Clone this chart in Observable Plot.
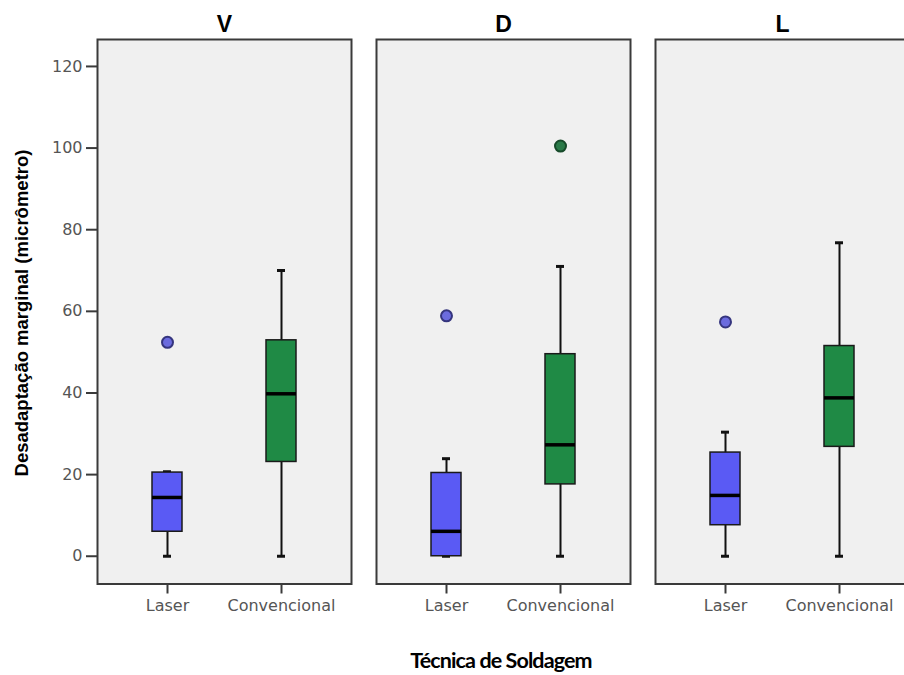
<!DOCTYPE html>
<html>
<head>
<meta charset="utf-8">
<script src="https://cdn.jsdelivr.net/npm/d3@7"></script>
<script src="https://cdn.jsdelivr.net/npm/@observablehq/plot@0.6"></script>
<style>
  html, body { margin: 0; padding: 0; background: #ffffff; overflow: hidden; }
  #wrap { position: relative; width: 904px; height: 675px; overflow: hidden; }
  #ytitle { position: absolute; left: 22px; top: 313px; transform: translate(-50%, -50%) rotate(-90deg);
    white-space: nowrap; font-family: "Liberation Sans", Arial, sans-serif; font-weight: bold; font-size: 18.5px; color: #000; }
  #xtitle { position: absolute; left: 501px; top: 660px; transform: translate(-50%, -50%);
    white-space: nowrap; font-family: Lato, sans-serif; font-weight: bold; font-size: 21.5px; letter-spacing: -0.9px; color: #000; }
</style>
</head>
<body>
<div id="wrap">
  <div id="chart"></div>
  <div id="ytitle">Desadaptação marginal (micrômetro)</div>
  <div id="xtitle">Técnica de Soldagem</div>
</div>
<script>
// Panels (faces) and techniques
const panels = ["V", "D", "L"];
const techniques = ["Laser", "Convencional"];

// Box statistics, one entry per (panel, technique)
const boxPanel = ["V", "V", "D", "D", "L", "L"];
const boxTech  = ["Laser", "Convencional", "Laser", "Convencional", "Laser", "Convencional"];
const whiskerLow  = [0, 0, 0, 0, 0, 0];
const q1          = [6.0, 23.1, 0, 17.6, 7.6, 26.8];
const median      = [14.4, 39.8, 6.1, 27.3, 14.9, 38.8];
const q3          = [20.5, 52.9, 20.4, 49.5, 25.4, 51.5];
const whiskerHigh = [20.7, 70.0, 23.9, 71.0, 30.4, 76.8];

// Outliers
const outlierPanel = ["V", "D", "D", "L"];
const outlierTech  = ["Laser", "Laser", "Convencional", "Laser"];
const outlierValue = [52.4, 58.9, 100.5, 57.4];

// Y axis ticks
const yTicks = [0, 20, 40, 60, 80, 100, 120];

const boxes = boxPanel.map((p, i) => ({
  panel: p, tech: boxTech[i], low: whiskerLow[i], q1: q1[i], med: median[i], q3: q3[i], high: whiskerHigh[i]
}));
const outliers = outlierPanel.map((p, i) => ({ panel: p, tech: outlierTech[i], value: outlierValue[i] }));

const fillColors = { "Laser": "#5a5af4", "Convencional": "#1f8a45" };
const dotFill = { "Laser": "#6b6bde", "Convencional": "#2a7a48" };
const dotStroke = { "Laser": "#35357e", "Convencional": "#174a2a" };

const chart = Plot.plot({
  width: 910,
  height: 630,
  marginLeft: 97,
  marginRight: 0,
  marginTop: 39,
  marginBottom: 46.5,
  style: { fontFamily: "DejaVu Sans, sans-serif", fontSize: "16px", maxWidth: "none", background: "#ffffff" },
  fx: { domain: panels, paddingInner: 0.088, paddingOuter: 0 },
  x: { type: "band", domain: techniques, paddingInner: 0.737, paddingOuter: 0.476 },
  y: { domain: [-6.8, 126.6] },
  marks: [
    Plot.frame({ fill: "#f0f0f0", stroke: "#3a3a3a", strokeWidth: 2 }),
    Plot.axisFx({ anchor: "top", label: null, tickSize: 0, tickPadding: 8, fontSize: 23, fontWeight: "bold", fill: "#000", fontFamily: "Liberation Sans, Arial, sans-serif" }),
    Plot.axisY({ anchor: "left", ticks: yTicks, tickSize: 11, tickPadding: 4, label: null, fill: "#555", stroke: "#3a3a3a", strokeWidth: 2, fontSize: 16 }),
    Plot.axisX({ anchor: "bottom", label: null, tickSize: 10, tickPadding: 6, fill: "#555", stroke: "#3a3a3a", strokeWidth: 2, fontSize: 16 }),
    Plot.ruleX(boxes, { fx: "panel", x: "tech", y1: "low", y2: "high", stroke: "#111", strokeWidth: 2 }),
    Plot.tickY(boxes, { fx: "panel", x: "tech", y: "low", stroke: "#111", strokeWidth: 3, insetLeft: 11, insetRight: 11 }),
    Plot.tickY(boxes, { fx: "panel", x: "tech", y: "high", stroke: "#111", strokeWidth: 3, insetLeft: 11, insetRight: 11 }),
    Plot.barY(boxes, { fx: "panel", x: "tech", y1: "q1", y2: "q3", fill: d => fillColors[d.tech], stroke: "#1a1a1a", strokeWidth: 1.5 }),
    Plot.tickY(boxes, { fx: "panel", x: "tech", y: "med", stroke: "#000", strokeWidth: 3.5 }),
    Plot.dot(outliers, { fx: "panel", x: "tech", y: "value", r: 5.5, fill: d => dotFill[d.tech], stroke: d => dotStroke[d.tech], strokeWidth: 2 })
  ]
});
document.getElementById("chart").appendChild(chart);
</script>
</body>
</html>
